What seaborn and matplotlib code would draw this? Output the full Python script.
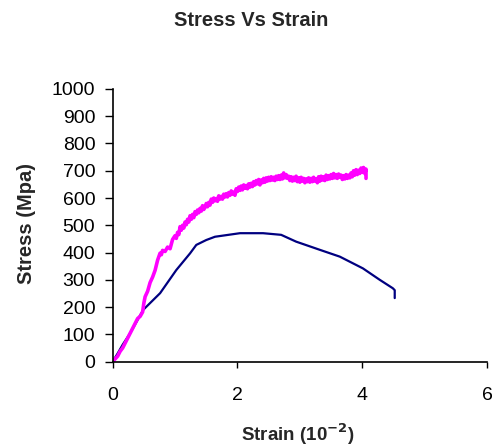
import matplotlib
matplotlib.use("Agg")
import matplotlib.pyplot as plt
import seaborn as sns
import pandas as pd

# Pink series (strain in 10^-2, stress in MPa)
pink_strain = [0.00, 0.04, 0.08, 0.12, 0.16, 0.20, 0.24, 0.28, 0.32, 0.36, 0.40, 0.44, 0.48, 0.50,
               0.52, 0.56, 0.60, 0.64, 0.68, 0.72, 0.76, 0.78, 0.80, 0.84, 0.88, 0.92, 0.96, 1.00,
               1.02, 1.04, 1.06, 1.08, 1.10, 1.12, 1.14, 1.16, 1.18, 1.20, 1.22, 1.24, 1.26, 1.28,
               1.30, 1.32, 1.34, 1.36, 1.38, 1.40, 1.42, 1.44, 1.46, 1.48, 1.50, 1.52, 1.54, 1.56,
               1.58, 1.60, 1.62, 1.64, 1.66, 1.68, 1.70, 1.72, 1.74, 1.76, 1.78, 1.80, 1.82, 1.84,
               1.86, 1.88, 1.90, 1.92, 1.94, 1.96, 1.98, 2.00, 2.02, 2.04, 2.06, 2.08, 2.10, 2.12,
               2.14, 2.16, 2.18, 2.20, 2.22, 2.24, 2.26, 2.28, 2.30, 2.32, 2.34, 2.36, 2.38, 2.40,
               2.42, 2.44, 2.46, 2.48, 2.50, 2.52, 2.54, 2.56, 2.58, 2.60, 2.62, 2.64, 2.66, 2.68,
               2.70, 2.72, 2.74, 2.76, 2.78, 2.80, 2.82, 2.84, 2.86, 2.88, 2.90, 2.92, 2.94, 2.96,
               2.98, 3.00, 3.02, 3.04, 3.06, 3.08, 3.10, 3.12, 3.14, 3.16, 3.18, 3.20, 3.22, 3.24,
               3.26, 3.28, 3.30, 3.32, 3.34, 3.36, 3.38, 3.40, 3.42, 3.44, 3.46, 3.48, 3.50, 3.52,
               3.54, 3.56, 3.58, 3.60, 3.62, 3.64, 3.66, 3.68, 3.70, 3.72, 3.74, 3.76, 3.78, 3.80,
               3.82, 3.84, 3.86, 3.88, 3.90, 3.92, 3.94, 3.96, 3.98, 4.00, 4.02, 4.04, 4.06, 4.06]
pink_stress = [0, 10, 20, 38, 50, 68, 86, 104, 122, 140, 158, 166, 182, 215,
               238, 258, 290, 310, 335, 372, 398, 392, 408, 404, 420, 414, 448, 462,
               452, 474, 466, 495, 482, 500, 490, 512, 502, 522, 512, 535, 522, 540,
               528, 550, 540, 556, 546, 562, 552, 572, 558, 566, 580, 568, 584, 574,
               596, 584, 600, 590, 598, 588, 608, 596, 606, 596, 614, 604, 616, 604,
               620, 610, 626, 614, 622, 610, 634, 624, 640, 628, 644, 630, 648, 636,
               646, 634, 652, 640, 654, 642, 660, 648, 664, 652, 668, 648, 666, 656,
               672, 658, 674, 662, 676, 664, 678, 666, 676, 664, 680, 668, 682, 668,
               684, 670, 692, 674, 686, 672, 680, 664, 678, 662, 676, 664, 680, 660,
               674, 658, 676, 662, 672, 656, 670, 660, 674, 658, 672, 660, 676, 662,
               670, 656, 678, 662, 680, 666, 678, 664, 684, 668, 682, 670, 686, 672,
               690, 674, 686, 672, 688, 676, 684, 668, 682, 670, 686, 672, 684, 674,
               692, 678, 700, 684, 704, 686, 702, 690, 710, 694, 712, 690, 706, 672]

# Navy series
navy_strain = [0.00, 0.08, 0.16, 0.28, 0.49, 0.76, 1.02, 1.24, 1.34, 1.50, 1.64, 2.04, 2.41,
               2.70, 2.94, 3.32, 3.64, 4.01, 4.28, 4.49, 4.52, 4.52]
navy_stress = [0, 30, 62, 104, 190, 251, 336, 397, 428, 446, 458, 471, 471,
               465, 440, 410, 385, 342, 300, 269, 262, 233]

x_ticks = [0, 2, 4, 6]
y_ticks = [0, 100, 200, 300, 400, 500, 600, 700, 800, 900, 1000]

pink_df = pd.DataFrame({"strain": pink_strain, "stress": pink_stress})
navy_df = pd.DataFrame({"strain": navy_strain, "stress": navy_stress})

sns.set_style("ticks")
plt.rcParams["font.family"] = ["Liberation Sans", "DejaVu Sans"]

fig = plt.figure(figsize=(4.92, 4.47), dpi=100)
ax = fig.add_axes([0.229, 0.191, 0.761, 0.610])

sns.lineplot(data=navy_df, x="strain", y="stress", sort=False, color="#000080",
             linewidth=1.6, ax=ax, estimator=None)
sns.lineplot(data=pink_df, x="strain", y="stress", sort=False, color="#FF00FF",
             linewidth=2.6, ax=ax, estimator=None)

ax.set_xlim(0, 6)
ax.set_ylim(0, 1000)
ax.set_xticks(x_ticks)
ax.set_yticks(y_ticks)
ax.set_xticklabels([str(t) for t in x_ticks])
ax.set_yticklabels([str(t) for t in y_ticks])
ax.tick_params(axis="y", length=5.5, width=1, labelsize=14, pad=7, colors="black")
ax.tick_params(axis="x", length=4, width=1, labelsize=14, pad=14, colors="black")
for s in ["top", "right"]:
    ax.spines[s].set_visible(False)
for s in ["left", "bottom"]:
    ax.spines[s].set_color("black")
    ax.spines[s].set_linewidth(1.2)

ax.set_xlabel("")
ax.set_ylabel("")
fig.text(0.606, 1 - 434 / 447, r"Strain (10$^{\mathbf{-2}}$)", ha="center", va="center",
         fontsize=13.5, fontweight="bold")
fig.text(27 / 492, 1 - 224 / 447, "Stress (Mpa)", ha="center", va="center",
         fontsize=14.5, fontweight="bold", rotation=90)
fig.text(251 / 492, 1 - 21 / 447, "Stress Vs Strain", ha="center", va="center",
         fontsize=14.5, fontweight="bold")

fig.savefig("out.png", dpi=100)
